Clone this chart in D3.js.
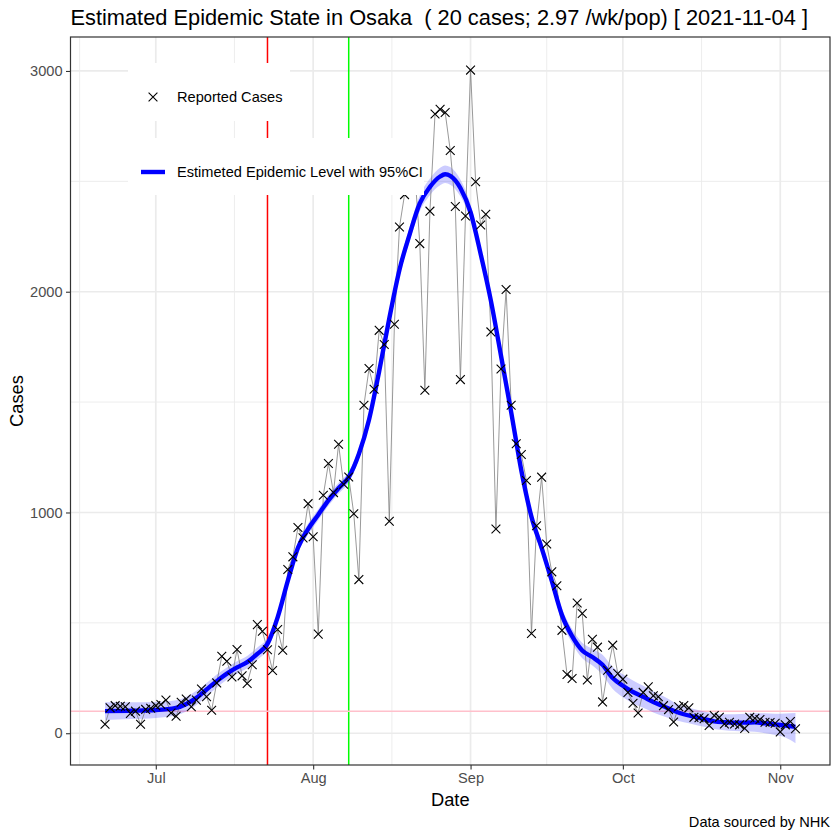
<!DOCTYPE html>
<html>
<head>
<meta charset="utf-8">
<script src="https://cdn.jsdelivr.net/npm/d3@7"></script>
<style>
  body { margin: 0; background: #fff; }
  svg text { font-family: "Liberation Sans", Arial, Helvetica, sans-serif; }
</style>
</head>
<body>
<div id="chart"></div>
<script>
// ---- data ----
const TITLE = 'Estimated Epidemic State in Osaka  ( 20 cases; 2.97 /wk/pop) [ 2021-11-04 ]';
const CAPTION = 'Data sourced by NHK';
const X_TITLE = 'Date';
const Y_TITLE = 'Cases';
const legendLabels = ['Reported Cases', 'Estimeted Epidemic Level with 95%CI'];

// daily reported cases, one per day starting at FIRST_DAY
const FIRST_DAY = '2021-06-21';
const cases = [
  41, 115, 125, 122, 120, 90, 100, 41, 108, 113,
  125, 130, 150, 92, 77, 140, 155, 120, 150, 200,
  165, 104, 228, 349, 326, 255, 379, 260, 225, 310,
  492, 462, 378, 284, 470, 376, 742, 799, 932, 885,
  1040, 890, 449, 1078, 1222, 1090, 1309, 1128, 1161, 994,
  696, 1486, 1652, 1558, 1825, 1761, 960, 1853, 2293, 2440,
  2560, 2550, 2218, 1554, 2365, 2805, 2826, 2812, 2640, 2386,
  1602, 2343, 3004, 2498, 2302, 2351, 1818, 925, 1650, 2010,
  1486, 1311, 1263, 1145, 452, 940, 1160, 857, 731, 668,
  466, 266, 248, 590, 542, 241, 426, 390, 142, 285,
  399, 270, 245, 185, 136, 92, 185, 210, 170, 165,
  125, 107, 51, 120, 126, 115, 72, 70, 66, 35,
  80, 72, 42, 50, 42, 38, 22, 72, 68, 62,
  50, 49, 45, 6, 38, 53, 20
];

// estimated epidemic level with 95% CI
const estDates = [
  '2021-06-21', '2021-06-26', '2021-07-01', '2021-07-05', '2021-07-09', '2021-07-11',
  '2021-07-13', '2021-07-15', '2021-07-17', '2021-07-19', '2021-07-21', '2021-07-23',
  '2021-07-25', '2021-07-27', '2021-07-29', '2021-07-31', '2021-08-02', '2021-08-04',
  '2021-08-06', '2021-08-08', '2021-08-10', '2021-08-12', '2021-08-14', '2021-08-16',
  '2021-08-18', '2021-08-20', '2021-08-22', '2021-08-24', '2021-08-26', '2021-08-27',
  '2021-08-28', '2021-08-30', '2021-09-01', '2021-09-03', '2021-09-05', '2021-09-07',
  '2021-09-09', '2021-09-11', '2021-09-13', '2021-09-15', '2021-09-17', '2021-09-19',
  '2021-09-21', '2021-09-23', '2021-09-25', '2021-09-27', '2021-09-29', '2021-10-01',
  '2021-10-03', '2021-10-05', '2021-10-07', '2021-10-09', '2021-10-11', '2021-10-13',
  '2021-10-15', '2021-10-17', '2021-10-19', '2021-10-21', '2021-10-23', '2021-10-25',
  '2021-10-27', '2021-10-29', '2021-10-31', '2021-11-02', '2021-11-04'
];
const estLevel = [
  100, 102, 105, 115, 160, 198, 236, 270, 298, 322, 360, 405,
  525, 690, 840, 925, 990, 1055, 1110, 1160, 1265, 1420, 1640, 1880,
  2100, 2260, 2400, 2475, 2522, 2532, 2525, 2470, 2360, 2170, 1960, 1710,
  1455, 1190, 980, 840, 690, 535, 440, 375, 345, 310, 250, 215,
  187, 165, 142, 122, 102, 86, 75, 64, 54, 50, 48, 48,
  49, 45, 40, 35, 29
];
const ciLow = [
  60, 64, 69, 81, 128, 168, 206, 242, 270, 294, 332, 379,
  500, 665, 815, 900, 965, 1030, 1085, 1135, 1240, 1395, 1615, 1855,
  2072, 2228, 2364, 2437, 2482, 2492, 2485, 2432, 2326, 2140, 1930, 1680,
  1425, 1162, 952, 812, 662, 505, 408, 340, 307, 265, 200, 163,
  135, 115, 94, 77, 62, 50, 40, 29, 19, 14, 10, 8,
  7, 0, -8, -19, -45
];
const ciHigh = [
  140, 140, 141, 149, 192, 228, 266, 298, 326, 350, 388, 431,
  550, 715, 865, 950, 1015, 1080, 1135, 1185, 1290, 1445, 1665, 1905,
  2128, 2292, 2436, 2513, 2562, 2572, 2565, 2508, 2394, 2200, 1990, 1740,
  1485, 1218, 1008, 868, 718, 565, 472, 410, 383, 355, 300, 267,
  239, 215, 190, 167, 142, 122, 110, 99, 89, 86, 86, 88,
  91, 90, 88, 89, 92
];

// Olympic opening / closing markers and the reference level
const markerDates = ['2021-07-23', '2021-08-08'];
const referenceLevel = 100;

// axis ticks
const xTickDates = ['2021-07-01', '2021-08-01', '2021-09-01', '2021-10-01', '2021-11-01'];
const xTickLabels = ['Jul', 'Aug', 'Sep', 'Oct', 'Nov'];
const yTicks = [0, 1000, 2000, 3000];

(function () {
  const CONFIG = {
    width: 840,
    height: 840,
    panel: {left: 70.5, right: 830, top: 37, bottom: 765},
    gridColor: '#ebebeb',
    borderColor: '#333333',
    tickTextColor: '#4d4d4d',
    markerColors: ['#ff0000', '#00ff00'],
    referenceColor: '#ffc0cb',
    rawLineColor: '#7f7f7f',
    estColor: '#0000ff',
    bandColor: '#0000ff',
    bandOpacity: 0.2,
    smallFont: '14.6px',
    axisTitleFont: '18.3px',
    titleFont: '21.8px'
  };
  const P = CONFIG.panel;
  const parse = d3.utcParse('%Y-%m-%d');
  const start = parse(FIRST_DAY);

  const points = cases.map((value, i) => ({date: d3.utcDay.offset(start, i), value}));
  const estimate = estDates.map((d, i) => ({
    date: parse(d), level: estLevel[i], low: ciLow[i], high: ciHigh[i]
  }));

  const svg = d3.select('#chart').append('svg')
    .attr('width', CONFIG.width)
    .attr('height', CONFIG.height);

  // scales, 5% expansion like ggplot
  const [t0, t1] = d3.extent(points, (d) => d.date);
  const padT = (t1 - t0) * 0.05;
  const x = d3.scaleUtc()
    .domain([new Date(+t0 - padT), new Date(+t1 + padT)])
    .range([P.left, P.right]);

  const [v0, v1] = d3.extent(points, (d) => d.value);
  const padV = (v1 - v0) * 0.05;
  const y = d3.scaleLinear()
    .domain([v0 - padV, v1 + padV])
    .range([P.bottom, P.top]);

  // grid: minor breaks half way between the major ones
  const xMajor = xTickDates.map(parse);
  const xAll = [d3.utcMonth.offset(xMajor[0], -1), ...xMajor, d3.utcMonth.offset(xMajor[xMajor.length - 1], 1)];
  const xMinor = d3.pairs(xAll, (a, b) => new Date((+a + +b) / 2))
    .filter((d) => d >= x.domain()[0] && d <= x.domain()[1]);
  const yStep = yTicks[1] - yTicks[0];
  const yAll = [yTicks[0] - yStep, ...yTicks, yTicks[yTicks.length - 1] + yStep];
  const yMinor = d3.pairs(yAll, (a, b) => (a + b) / 2)
    .filter((d) => d >= y.domain()[0] && d <= y.domain()[1]);

  const grid = svg.append('g');
  grid.selectAll('.xminor').data(xMinor).enter().append('line')
    .attr('x1', (d) => x(d)).attr('x2', (d) => x(d))
    .attr('y1', P.top).attr('y2', P.bottom)
    .attr('stroke', CONFIG.gridColor).attr('stroke-width', 0.9);
  grid.selectAll('.yminor').data(yMinor).enter().append('line')
    .attr('x1', P.left).attr('x2', P.right)
    .attr('y1', (d) => y(d)).attr('y2', (d) => y(d))
    .attr('stroke', CONFIG.gridColor).attr('stroke-width', 0.9);
  grid.selectAll('.xmajor').data(xMajor).enter().append('line')
    .attr('x1', (d) => x(d)).attr('x2', (d) => x(d))
    .attr('y1', P.top).attr('y2', P.bottom)
    .attr('stroke', CONFIG.gridColor).attr('stroke-width', 1.7);
  grid.selectAll('.ymajor').data(yTicks).enter().append('line')
    .attr('x1', P.left).attr('x2', P.right)
    .attr('y1', (d) => y(d)).attr('y2', (d) => y(d))
    .attr('stroke', CONFIG.gridColor).attr('stroke-width', 1.7);

  // reference lines
  svg.append('g').selectAll('line').data(markerDates.map(parse)).enter().append('line')
    .attr('x1', (d) => x(d)).attr('x2', (d) => x(d))
    .attr('y1', P.top).attr('y2', P.bottom)
    .attr('stroke', (d, i) => CONFIG.markerColors[i])
    .attr('stroke-width', 1.5);
  svg.append('line')
    .attr('x1', P.left).attr('x2', P.right)
    .attr('y1', y(referenceLevel)).attr('y2', y(referenceLevel))
    .attr('stroke', CONFIG.referenceColor)
    .attr('stroke-width', 1.5);

  // confidence band
  const area = d3.area()
    .curve(d3.curveMonotoneX)
    .x((d) => x(d.date))
    .y0((d) => y(d.low))
    .y1((d) => y(d.high));
  svg.append('path')
    .attr('d', area(estimate))
    .attr('fill', CONFIG.bandColor)
    .attr('fill-opacity', CONFIG.bandOpacity);

  // reported cases joined by a thin line
  const rawLine = d3.line().x((d) => x(d.date)).y((d) => y(d.value));
  svg.append('path')
    .attr('d', rawLine(points))
    .attr('fill', 'none')
    .attr('stroke', CONFIG.rawLineColor)
    .attr('stroke-width', 0.8);

  // estimated level
  const estLine = d3.line()
    .curve(d3.curveMonotoneX)
    .x((d) => x(d.date))
    .y((d) => y(d.level));
  svg.append('path')
    .attr('d', estLine(estimate))
    .attr('fill', 'none')
    .attr('stroke', CONFIG.estColor)
    .attr('stroke-width', 4.4);

  const crossPath = 'M-4.4,-4.4L4.4,4.4M-4.4,4.4L4.4,-4.4';
  svg.append('g').selectAll('path').data(points).enter().append('path')
    .attr('transform', (d) => `translate(${x(d.date)},${y(d.value)})`)
    .attr('d', crossPath)
    .attr('fill', 'none')
    .attr('stroke', '#000')
    .attr('stroke-width', 1.1);

  // panel border
  svg.append('rect')
    .attr('x', P.left).attr('y', P.top)
    .attr('width', P.right - P.left).attr('height', P.bottom - P.top)
    .attr('fill', 'none')
    .attr('stroke', CONFIG.borderColor)
    .attr('stroke-width', 1.2);

  // axes
  const xAxis = d3.axisBottom(x)
    .tickValues(xMajor)
    .tickFormat((d, i) => xTickLabels[i])
    .tickSize(4.5)
    .tickPadding(3.5);
  const yAxis = d3.axisLeft(y)
    .tickValues(yTicks)
    .tickFormat(d3.format('d'))
    .tickSize(4.5)
    .tickPadding(3.5);

  const gx = svg.append('g').attr('transform', `translate(0,${P.bottom})`).call(xAxis);
  const gy = svg.append('g').attr('transform', `translate(${P.left},0)`).call(yAxis);
  [gx, gy].forEach((g) => {
    g.select('.domain').remove();
    g.selectAll('line').attr('stroke', CONFIG.borderColor).attr('stroke-width', 1.1);
    g.selectAll('text')
      .attr('fill', CONFIG.tickTextColor)
      .style('font-size', CONFIG.smallFont)
      .style('font-family', '"Liberation Sans", Arial, sans-serif');
  });

  // titles
  svg.append('text')
    .attr('x', P.left).attr('y', 25)
    .style('font-size', CONFIG.titleFont)
    .style('white-space', 'pre')
    .text(TITLE);
  svg.append('text')
    .attr('x', (P.left + P.right) / 2).attr('y', 805.5)
    .attr('text-anchor', 'middle')
    .style('font-size', CONFIG.axisTitleFont)
    .text(X_TITLE);
  svg.append('text')
    .attr('transform', `translate(22.5,${(P.top + P.bottom) / 2}) rotate(-90)`)
    .attr('text-anchor', 'middle')
    .style('font-size', CONFIG.axisTitleFont)
    .text(Y_TITLE);
  svg.append('text')
    .attr('x', P.right).attr('y', 827)
    .attr('text-anchor', 'end')
    .style('font-size', CONFIG.smallFont)
    .text(CAPTION);

  // legends (two separate boxes, drawn over the data)
  const legend = svg.append('g');
  legend.append('rect')
    .attr('x', 128).attr('y', 63).attr('width', 162).attr('height', 58)
    .attr('fill', '#fff');
  legend.append('path')
    .attr('transform', 'translate(153,97)')
    .attr('d', crossPath)
    .attr('fill', 'none').attr('stroke', '#000').attr('stroke-width', 1.1);
  legend.append('text')
    .attr('x', 177).attr('y', 97).attr('dy', '0.35em')
    .style('font-size', CONFIG.smallFont)
    .text(legendLabels[0]);

  legend.append('rect')
    .attr('x', 128).attr('y', 138).attr('width', 296).attr('height', 57)
    .attr('fill', '#fff');
  legend.append('line')
    .attr('x1', 141).attr('x2', 165).attr('y1', 172).attr('y2', 172)
    .attr('stroke', CONFIG.estColor).attr('stroke-width', 4.4);
  legend.append('text')
    .attr('x', 177).attr('y', 172).attr('dy', '0.35em')
    .style('font-size', CONFIG.smallFont)
    .text(legendLabels[1]);
})();
</script>
</body>
</html>
